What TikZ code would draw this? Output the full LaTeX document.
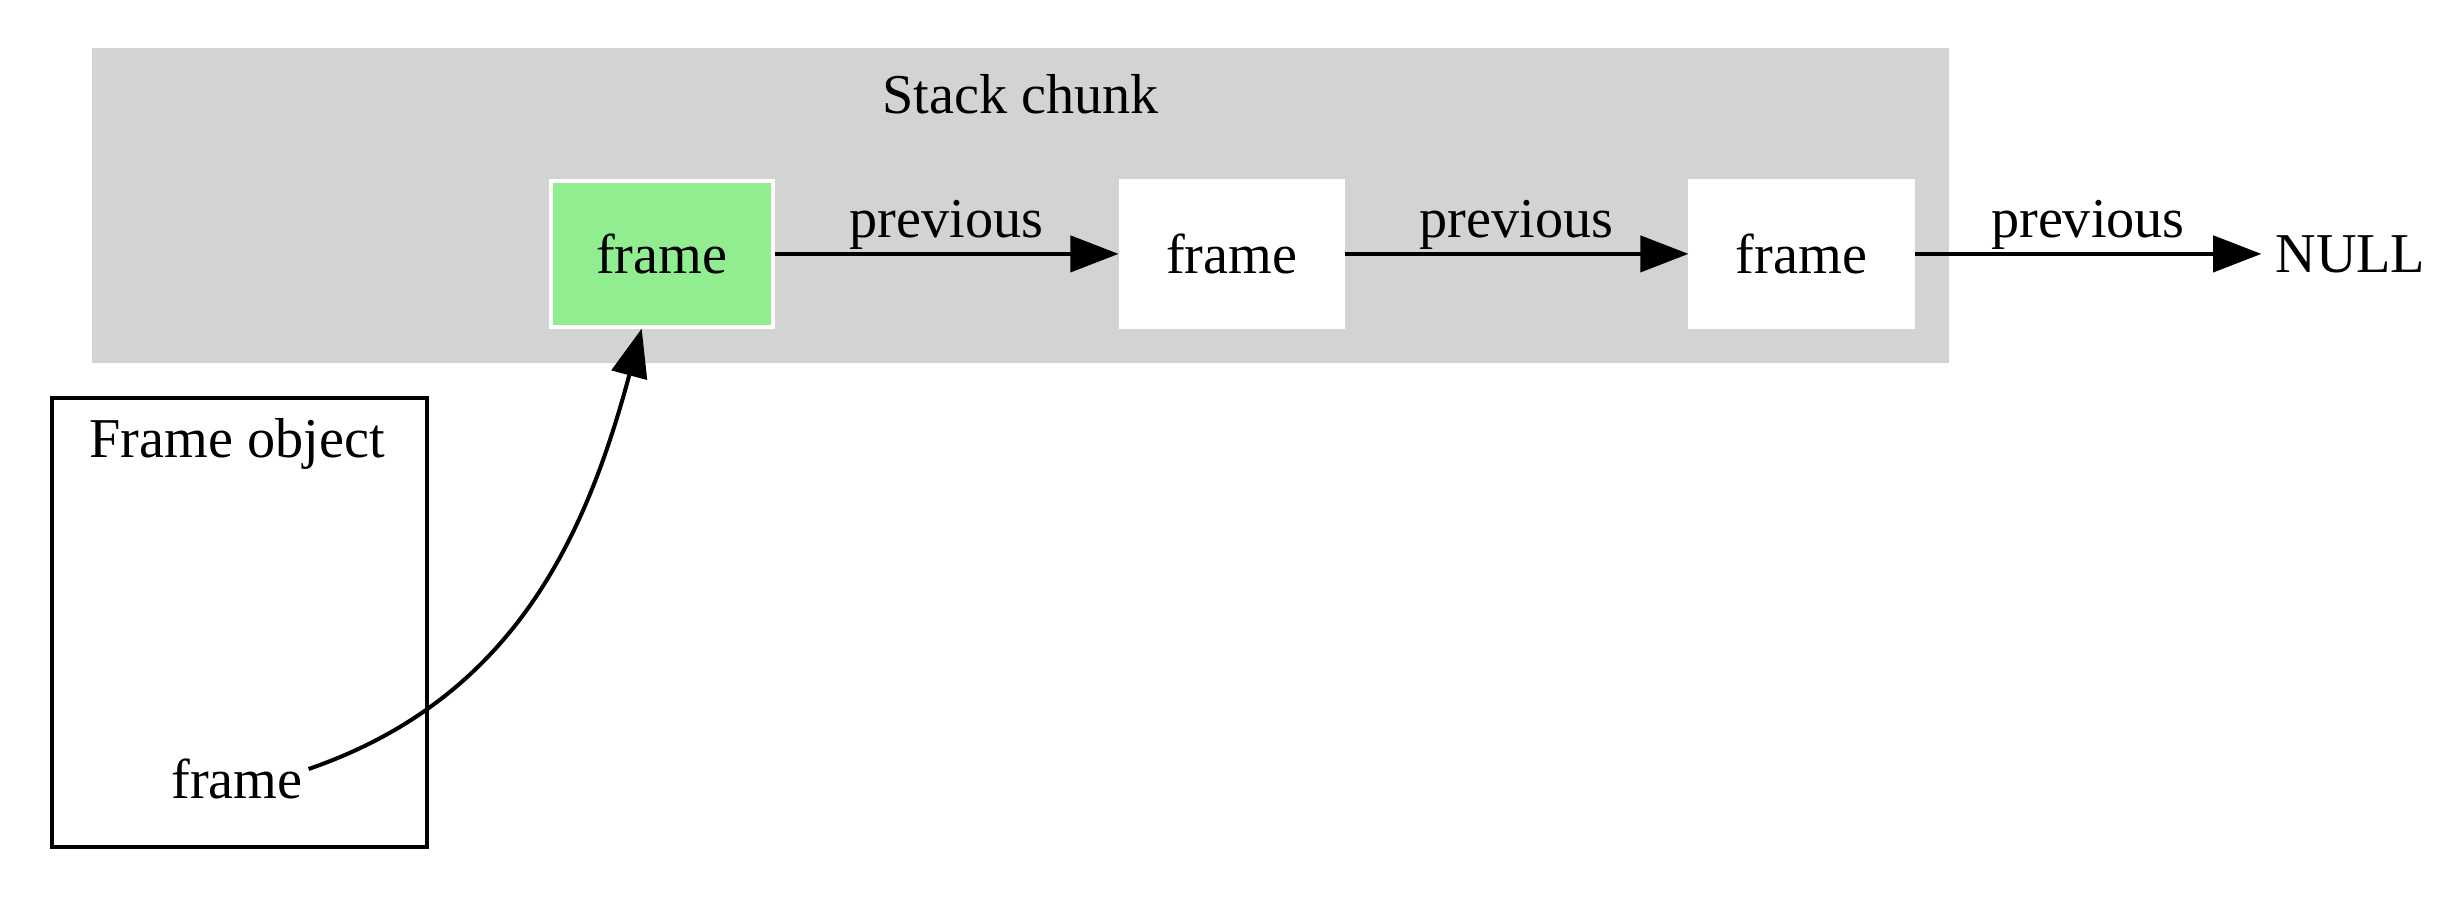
\documentclass[tikz,border=0pt]{standalone}
\usepackage{fontspec}
\setmainfont{Liberation Serif}
\usetikzlibrary{arrows.meta}
\definecolor{chunkgray}{HTML}{D3D3D3}
\definecolor{lightgreen}{HTML}{90EE90}

\begin{document}
\begin{tikzpicture}[>={Triangle[length=12pt,width=9pt]}, x=1pt, y=1pt, auto, node distance=141.85pt, font=\fontsize{14pt}{17pt}\selectfont, line width=1pt]
 \tikzstyle{frm}=[rectangle,draw=white,fill=white,line width=1pt,minimum width=55.3pt,minimum height=36.2pt,inner sep=0pt]
 \tikzstyle{lbl}=[inner sep=0.5pt]

\useasboundingbox (0,0) rectangle (608.8,224);
\node[fill=chunkgray, minimum width=462.3pt, minimum height=78.4pt, inner sep=0pt] (chunk) at (254.05,172.8) {};
\node (chunktitle) at (254,200.5) {Stack chunk};

\node[frm,fill=lightgreen] (fa) at (164.7,160.8)   {frame};
\node[frm]                 (fb) [right of=fa]      {frame};
\node[frm]                 (fc) [right of=fb]      {frame};
\node[inner sep=3pt]       (null) at (585,160.8)   {NULL};

\node[draw=black, line width=1pt, minimum width=93.3pt, minimum height=111.9pt] (obj) at (59.55,69.05) {};
\node                (objtitle) at (59,113.6) {Frame object};
\node[inner sep=1pt] (fobj) at (59,30.1)      {frame};

\path[->] (fa) edge                   node[lbl] {previous} (fb)
          (fb) edge                   node[lbl] {previous} (fc)
          (fc) edge                   node[lbl] {previous} (null)
          ([yshift=2.5pt]fobj.east) edge [out=19,in=-105] (fa);
\end{tikzpicture}
\end{document}
